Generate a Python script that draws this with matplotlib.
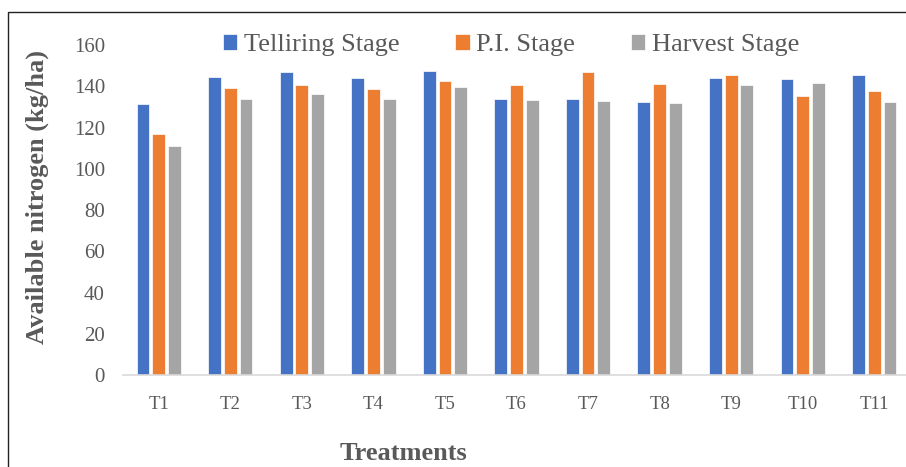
import matplotlib.pyplot as plt
import numpy as np
from matplotlib.patches import Rectangle

# data
treatments = ['T1', 'T2', 'T3', 'T4', 'T5', 'T6', 'T7', 'T8', 'T9', 'T10', 'T11']
tillering = [131.2, 144.6, 146.7, 144.1, 147.2, 133.8, 133.8, 132.2, 144.1, 143.5, 145.5]
pi_stage = [116.8, 139.0, 140.4, 138.5, 142.5, 140.4, 146.7, 140.9, 145.5, 135.2, 137.5]
harvest = [111.2, 133.8, 136.4, 133.8, 139.5, 133.3, 132.8, 131.7, 140.4, 141.5, 132.2]
series_names = ['Telliring Stage', 'P.I. Stage', 'Harvest Stage']
colors = ['#4472C4', '#ED7D31', '#A5A5A5']
text_col = '#595959'

plt.rcParams['font.family'] = ['Liberation Serif', 'DejaVu Serif']

fig = plt.figure(figsize=(9.06, 4.67), dpi=100)
ax = fig.add_axes([123 / 906, 1 - 375.4 / 467, 787 / 906, (375.4 - 45) / 467])

x = np.arange(len(treatments))
step = 0.22
for k, vals in enumerate([tillering, pi_stage, harvest]):
    ax.bar(x + (k - 1) * step, vals, width=0.18, color=colors[k],
           edgecolor='white', linewidth=0.5, label=series_names[k])

ax.set_xlim(-0.5, len(treatments) - 0.5)
ax.set_ylim(0, 160)
ax.set_yticks(np.arange(0, 161, 20))
ax.set_xticks(x)
ax.set_xticklabels(treatments)

for s in ['top', 'right', 'left']:
    ax.spines[s].set_visible(False)
ax.spines['bottom'].set_color('#D9D9D9')
ax.spines['bottom'].set_linewidth(1.2)
ax.tick_params(axis='y', length=0, pad=13, labelsize=15, labelcolor=text_col)
ax.tick_params(axis='x', length=0, pad=15, labelsize=13.5, labelcolor=text_col)

ax.legend(loc='center', bbox_to_anchor=(0.493, 1.0), ncol=3, frameon=False,
          fontsize=19, labelcolor=text_col, handlelength=0.55, handleheight=0.55,
          handletextpad=0.25, columnspacing=2.1, borderpad=0)

fig.text(37 / 906, 1 - 197 / 467, 'Available nitrogen (kg/ha)', rotation=90,
         ha='center', va='center', fontsize=19, fontweight='bold', color=text_col)
fig.text(403 / 906, 1 - 454 / 467, 'Treatments', ha='center', va='center',
         fontsize=19, fontweight='bold', color=text_col)

# outer frame (clipped at right/bottom like the reference)
fig.patches.append(Rectangle((8 / 906, -0.1), 1.2, 1.1 - 12 / 467,
                             transform=fig.transFigure, fill=False,
                             edgecolor='#222222', linewidth=1.0))

fig.savefig('out.png', dpi=100)
